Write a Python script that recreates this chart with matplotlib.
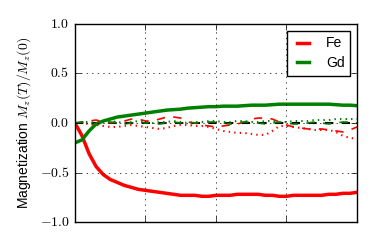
import matplotlib
matplotlib.use("Agg")
import matplotlib.pyplot as plt
from matplotlib.ticker import FuncFormatter
import numpy as np

plt.style.use("classic")
plt.rcParams["font.family"] = ["Liberation Sans", "DejaVu Sans"]
plt.rcParams["mathtext.fontset"] = "cm"

# time axis (arbitrary units, 0..4)
t = np.linspace(0, 4, 41)

fe_z = [0.0, -0.13, -0.31, -0.44, -0.52, -0.57, -0.60, -0.63, -0.65, -0.67,
        -0.68, -0.69, -0.70, -0.71, -0.72, -0.73, -0.73, -0.73, -0.74, -0.74,
        -0.73, -0.73, -0.73, -0.72, -0.72, -0.72, -0.72, -0.73, -0.73, -0.74,
        -0.74, -0.73, -0.73, -0.73, -0.73, -0.73, -0.72, -0.72, -0.71, -0.71,
        -0.70]
gd_z = [-0.20, -0.17, -0.08, -0.01, 0.02, 0.04, 0.06, 0.07, 0.08, 0.09,
        0.10, 0.11, 0.12, 0.13, 0.135, 0.14, 0.15, 0.155, 0.16, 0.165,
        0.165, 0.17, 0.17, 0.17, 0.175, 0.18, 0.18, 0.18, 0.185, 0.19,
        0.19, 0.19, 0.19, 0.19, 0.19, 0.19, 0.19, 0.185, 0.18, 0.18,
        0.175]
fe_x = [0.0, 0.01, 0.02, 0.03, 0.01, 0.0, 0.01, 0.02, 0.04, 0.04,
        0.02, 0.02, 0.04, 0.06, 0.06, 0.05, 0.01, 0.0, -0.02, -0.03,
        -0.04, -0.03, -0.02, -0.01, 0.01, 0.04, 0.05, 0.05, 0.04, 0.01,
        -0.02, -0.04, -0.05, -0.06, -0.06, -0.06, -0.07, -0.08, -0.09, -0.07,
        -0.04]
fe_y = [0.0, 0.0, -0.01, -0.02, -0.03, -0.04, -0.04, -0.03, -0.02, -0.03,
        -0.04, -0.05, -0.06, -0.05, -0.03, -0.02, -0.02, -0.03, -0.03, -0.04,
        -0.06, -0.08, -0.09, -0.10, -0.10, -0.11, -0.12, -0.12, -0.08, -0.03,
        -0.03, -0.04, -0.05, -0.06, -0.07, -0.07, -0.07, -0.09, -0.13, -0.15,
        -0.16]
gd_x = [0.0, 0.01, 0.0, -0.01, 0.0, 0.01, 0.0, -0.01, 0.0, 0.01,
        0.0, 0.0, -0.01, 0.0, 0.01, 0.0, -0.01, 0.0, 0.0, 0.01,
        0.01, 0.0, -0.01, 0.0, 0.01, 0.01, 0.0, -0.01, 0.0, 0.01,
        0.0, -0.01, -0.01, 0.0, 0.01, 0.0, -0.01, 0.0, 0.01, 0.01,
        0.0]
gd_y = [0.0, 0.01, 0.01, 0.0, 0.01, 0.02, 0.01, 0.0, 0.01, 0.02,
        0.01, 0.0, 0.01, 0.01, 0.02, 0.01, 0.0, 0.01, 0.01, 0.02,
        0.02, 0.01, 0.01, 0.02, 0.02, 0.01, 0.01, 0.02, 0.02, 0.01,
        0.01, 0.02, 0.02, 0.02, 0.03, 0.03, 0.03, 0.04, 0.04, 0.04,
        0.04]

fig = plt.figure(figsize=(3.74, 2.47), dpi=100, facecolor="white")
ax = fig.add_axes([0.2005, 0.101, 0.754, 0.802])

ax.axhline(0, color="k", ls="--", lw=1.5)
ax.plot(t, fe_z, "r-", lw=2.5, label="Fe")
ax.plot(t, gd_z, "g-", lw=2.5, label="Gd")
ax.plot(t, fe_x, "r--", lw=1.2)
ax.plot(t, fe_y, "r:", lw=1.5)
ax.plot(t, gd_x, "g--", lw=1.2)
ax.plot(t, gd_y, "g:", lw=1.5)

ax.set_xlim(0, 4)
ax.set_ylim(-1, 1)
ax.set_xticks([0, 1, 2, 3, 4])
ax.set_xticklabels([])
ax.set_yticks([-1, -0.5, 0, 0.5, 1])
ax.yaxis.set_major_formatter(FuncFormatter(lambda v, p: r"$%.1f$" % v))
ax.tick_params(labelsize=10)
ax.grid(True)
ax.set_ylabel(r"Magnetization $M_z(T)/M_z(0)$", fontsize=10)
ax.legend(loc="upper right", fontsize=10, handlelength=1.5,
          labelspacing=0.4, handletextpad=0.9)

fig.savefig("out.png", dpi=100, facecolor="white")
